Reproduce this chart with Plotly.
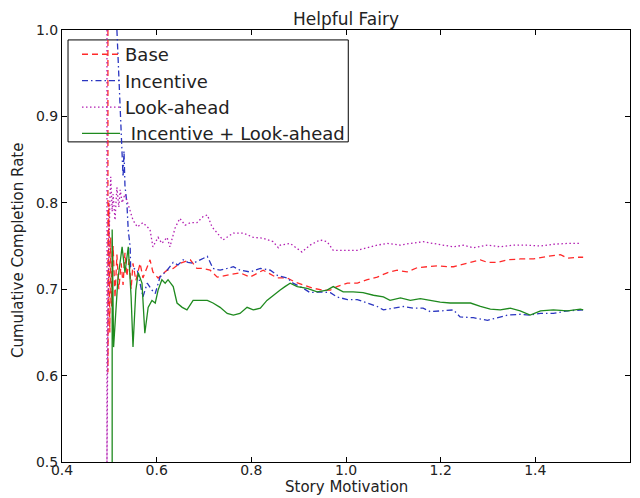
import plotly.graph_objects as go

# ---------------- data ----------------
base_x = [0.497, 0.497, 0.499, 0.501, 0.503, 0.505, 0.508, 0.512, 0.516, 0.520, 0.525, 0.529, 0.533, 0.537,
          0.542, 0.546, 0.550, 0.556, 0.565, 0.571, 0.586, 0.592, 0.603, 0.622, 0.635, 0.649, 0.671, 0.685,
          0.698, 0.713, 0.728, 0.749, 0.776, 0.797, 0.825, 0.855, 0.876, 0.893, 0.910, 0.931, 0.952, 0.967,
          0.981, 1.003, 1.024, 1.045, 1.066, 1.087, 1.108, 1.129, 1.151, 1.172, 1.193, 1.214, 1.227, 1.256,
          1.284, 1.299, 1.320, 1.341, 1.368, 1.396, 1.425, 1.453, 1.468, 1.489, 1.501]
base_y = [1.0, 0.604, 0.80, 0.65, 0.76, 0.68, 0.75, 0.69, 0.74, 0.70, 0.73, 0.705, 0.742, 0.715,
          0.735, 0.70, 0.73, 0.71, 0.73, 0.713, 0.734, 0.72, 0.713, 0.722, 0.724, 0.73, 0.734, 0.724,
          0.724, 0.722, 0.714, 0.716, 0.719, 0.714, 0.722, 0.713, 0.713, 0.708, 0.705, 0.701, 0.699, 0.699,
          0.703, 0.707, 0.707, 0.711, 0.714, 0.719, 0.722, 0.720, 0.725, 0.726, 0.727, 0.726, 0.726, 0.730,
          0.734, 0.731, 0.731, 0.734, 0.735, 0.735, 0.738, 0.740, 0.736, 0.737, 0.737]

inc_x = [0.516, 0.520, 0.524, 0.527, 0.529, 0.531, 0.533, 0.537, 0.540, 0.544, 0.545, 0.559, 0.569, 0.571,
         0.580, 0.590, 0.597, 0.607, 0.622, 0.635, 0.645, 0.656, 0.666, 0.677, 0.692, 0.707, 0.719, 0.734,
         0.749, 0.762, 0.776, 0.797, 0.819, 0.840, 0.855, 0.876, 0.888, 0.910, 0.924, 0.945, 0.967, 0.981,
         1.003, 1.024, 1.045, 1.066, 1.079, 1.100, 1.121, 1.142, 1.163, 1.178, 1.199, 1.220, 1.227, 1.241,
         1.269, 1.299, 1.320, 1.341, 1.368, 1.389, 1.411, 1.438, 1.468, 1.501]
inc_y = [1.0, 0.95, 0.90, 0.87, 0.83, 0.86, 0.82, 0.80, 0.768, 0.749, 0.726, 0.722, 0.699, 0.691,
         0.707, 0.699, 0.695, 0.714, 0.722, 0.731, 0.728, 0.734, 0.731, 0.730, 0.734, 0.738, 0.724, 0.722,
         0.724, 0.726, 0.722, 0.720, 0.724, 0.722, 0.716, 0.713, 0.707, 0.701, 0.696, 0.697, 0.696, 0.691,
         0.688, 0.688, 0.684, 0.680, 0.676, 0.678, 0.680, 0.678, 0.678, 0.674, 0.675, 0.676, 0.676, 0.668,
         0.667, 0.664, 0.667, 0.670, 0.671, 0.670, 0.672, 0.672, 0.675, 0.676]

look_x = [0.495, 0.495, 0.497, 0.499, 0.501, 0.503, 0.506, 0.508, 0.512, 0.516, 0.520, 0.523, 0.527, 0.533,
          0.537, 0.544, 0.550, 0.559, 0.571, 0.586, 0.592, 0.603, 0.611, 0.622, 0.628, 0.639, 0.649, 0.660,
          0.671, 0.685, 0.698, 0.707, 0.717, 0.728, 0.740, 0.762, 0.783, 0.804, 0.825, 0.846, 0.857, 0.861,
          0.882, 0.907, 0.924, 0.945, 0.960, 0.973, 0.994, 1.024, 1.045, 1.066, 1.087, 1.115, 1.136, 1.163,
          1.184, 1.205, 1.227, 1.248, 1.269, 1.299, 1.326, 1.353, 1.383, 1.411, 1.438, 1.468, 1.495]
look_y = [1.0, 0.5, 0.667, 0.75, 0.80, 0.83, 0.79, 0.81, 0.78, 0.818, 0.795, 0.815, 0.80, 0.81,
          0.803, 0.792, 0.78, 0.772, 0.777, 0.769, 0.749, 0.76, 0.753, 0.76, 0.749, 0.771, 0.782, 0.774,
          0.777, 0.777, 0.784, 0.786, 0.772, 0.765, 0.757, 0.765, 0.765, 0.760, 0.759, 0.755, 0.748, 0.751,
          0.753, 0.743, 0.751, 0.757, 0.755, 0.745, 0.745, 0.745, 0.748, 0.751, 0.753, 0.751, 0.753, 0.755,
          0.753, 0.751, 0.749, 0.751, 0.748, 0.751, 0.749, 0.751, 0.751, 0.750, 0.752, 0.753, 0.753]

both_x = [0.506, 0.506, 0.509, 0.518, 0.527, 0.533, 0.540, 0.546, 0.550, 0.556, 0.561, 0.569, 0.575, 0.582,
          0.590, 0.597, 0.603, 0.611, 0.618, 0.624, 0.635, 0.643, 0.654, 0.664, 0.677, 0.692, 0.707, 0.719,
          0.734, 0.749, 0.762, 0.776, 0.791, 0.804, 0.819, 0.833, 0.846, 0.861, 0.871, 0.882, 0.897, 0.918,
          0.939, 0.960, 0.973, 0.994, 1.015, 1.036, 1.058, 1.079, 1.093, 1.115, 1.136, 1.157, 1.178, 1.199,
          1.220, 1.241, 1.263, 1.284, 1.305, 1.326, 1.347, 1.368, 1.389, 1.411, 1.438, 1.468, 1.495, 1.501]
both_y = [0.5, 0.769, 0.633, 0.711, 0.749, 0.719, 0.749, 0.691, 0.633, 0.699, 0.719, 0.707, 0.649, 0.679,
          0.687, 0.684, 0.699, 0.711, 0.707, 0.711, 0.703, 0.684, 0.679, 0.676, 0.687, 0.687, 0.687, 0.684,
          0.679, 0.672, 0.670, 0.672, 0.679, 0.676, 0.678, 0.687, 0.693, 0.699, 0.703, 0.707, 0.703, 0.701,
          0.697, 0.699, 0.703, 0.697, 0.697, 0.696, 0.693, 0.691, 0.687, 0.690, 0.687, 0.689, 0.687, 0.685,
          0.684, 0.684, 0.684, 0.680, 0.677, 0.676, 0.678, 0.675, 0.670, 0.675, 0.676, 0.675, 0.677, 0.676]

names = ["Base", "Incentive", "Look-ahead", " Incentive + Look-ahead"]
x_ticks = [0.4, 0.6, 0.8, 1.0, 1.2, 1.4, 1.6]
y_ticks = [0.5, 0.6, 0.7, 0.8, 0.9, 1.0]

FONT = "DejaVu Sans, Liberation Sans, sans-serif"
TXT = "#222222"

fig = go.Figure()
series = [
    (base_x, base_y, "#ff2a2a", "6px,4px"),
    (inc_x, inc_y, "#2a35c0", "6px,3px,1.5px,3px"),
    (look_x, look_y, "#b21fb2", "1.5px,2.5px"),
    (both_x, both_y, "#1f8a1f", "solid"),
]
for (xs, ys, col, dash), nm in zip(series, names):
    fig.add_trace(go.Scatter(x=xs, y=ys, mode="lines", name=nm,
                             line=dict(color=col, width=1.3, dash=dash)))

axis_common = dict(showline=True, linecolor="black", linewidth=1, mirror="ticks",
                   ticks="inside", ticklen=5, tickcolor="black", showgrid=False, zeroline=False,
                   automargin=False, tickfont=dict(family=FONT, size=14, color=TXT))
fig.update_xaxes(range=[0.4, 1.6], tickvals=x_ticks, ticktext=[f"{v:.1f}" for v in x_ticks],
                 ticklabelstandoff=-5, **axis_common)
fig.update_yaxes(range=[0.5, 1.0], tickvals=y_ticks, ticktext=[f"{v:.1f}" for v in y_ticks], **axis_common)

fig.update_layout(
    width=640, height=498,
    margin=dict(l=62, r=10, t=30, b=36, autoexpand=False),
    paper_bgcolor="white", plot_bgcolor="white",
    title=dict(text="Helpful Fairy", x=0.5, xref="paper", xanchor="center",
               y=1 - 19 / 498, yref="container", yanchor="middle",
               font=dict(family=FONT, size=17, color=TXT)),
    legend=dict(x=(77 - 62) / 568, y=0.986, xanchor="left", yanchor="top", bgcolor="rgba(0,0,0,0)",
                borderwidth=0, font=dict(family=FONT, size=18, color=TXT), itemwidth=38),
    shapes=[dict(type="rect", xref="paper", yref="paper", x0=0.0106, x1=0.504, y0=0.741, y1=0.977,
                 line=dict(color="black", width=1), fillcolor="white", layer="below")],
    annotations=[
        dict(text="Story Motivation", xref="paper", yref="paper", x=0.5, y=(462 - 487) / 432,
             xanchor="center", yanchor="middle", showarrow=False,
             font=dict(family=FONT, size=15, color=TXT)),
        dict(text="Cumulative Completion Rate", xref="paper", yref="paper", x=(18 - 62) / 568,
             y=(462 - 251) / 432, xanchor="center", yanchor="middle", textangle=-90, showarrow=False,
             font=dict(family=FONT, size=15, color=TXT)),
    ],
    showlegend=True,
)

fig.write_html("out.html", config={"displayModeBar": False},
               post_script="document.body.style.margin='0';document.body.style.overflow='hidden';")
